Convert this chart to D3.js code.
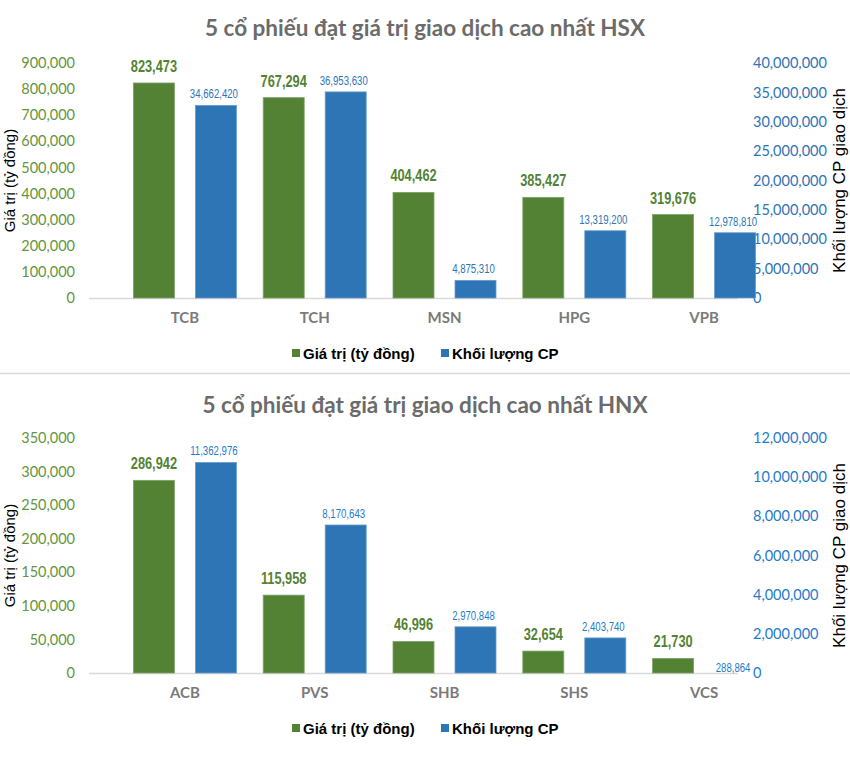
<!DOCTYPE html>
<html>
<head>
<meta charset="utf-8">
<script src="https://cdn.jsdelivr.net/npm/d3@7"></script>
<style>
  html, body { margin: 0; padding: 0; background: #fff; }
  svg { display: block; }
</style>
</head>
<body>
<svg id="chart" width="850" height="775"></svg>
<script>
// ---------- DATA ----------
const hsxTitle = "5 cổ phiếu đạt giá trị giao dịch cao nhất HSX";
const hsxCategories = ["TCB", "TCH", "MSN", "HPG", "VPB"];
const hsxValue = [823473, 767294, 404462, 385427, 319676];
const hsxVolume = [34662420, 36953630, 4875310, 13319200, 12978810];
const hsxValueTicks = [0, 100000, 200000, 300000, 400000, 500000, 600000, 700000, 800000, 900000];
const hsxVolumeTicks = [0, 5000000, 10000000, 15000000, 20000000, 25000000, 30000000, 35000000, 40000000];

const hnxTitle = "5 cổ phiếu đạt giá trị giao dịch cao nhất HNX";
const hnxCategories = ["ACB", "PVS", "SHB", "SHS", "VCS"];
const hnxValue = [286942, 115958, 46996, 32654, 21730];
const hnxVolume = [11362976, 8170643, 2970848, 2403740, 288864];
const hnxValueTicks = [0, 50000, 100000, 150000, 200000, 250000, 300000, 350000];
const hnxVolumeTicks = [0, 2000000, 4000000, 6000000, 8000000, 10000000, 12000000];

const seriesNames = ["Giá trị (tỷ đồng)", "Khối lượng CP"];
const leftAxisTitle = "Giá trị (tỷ đồng)";
const rightAxisTitle = "Khối lượng CP giao dịch";

// ---------- STYLE ----------
const GREEN = "#548235";
const BLUE = "#2e75b6";
const fmt = d3.format(",");
const svg = d3.select("#chart");
const CAL = "Lato, 'Open Sans', sans-serif";
const ARIAL = "'Liberation Sans', Arial, sans-serif";

function narrowText(sel, x, y, k) {
  // emulate a narrow font by compressing Liberation Sans horizontally
  sel.attr("transform", (d, i) => `translate(${x(d, i)},${y(d, i)}) scale(${k},1)`)
     .attr("x", 0).attr("y", 0).attr("font-family", ARIAL).attr("text-anchor", "middle");
}

function drawChart(opt) {
  const g = svg.append("g");
  const x = d3.scaleBand().domain(opt.categories).range([89, 738]);
  const y1 = d3.scaleLinear().domain(d3.extent(opt.valueTicks)).range([opt.bottom, opt.top]);
  const y2 = d3.scaleLinear().domain(d3.extent(opt.volumeTicks)).range([opt.bottom, opt.top]);
  // volume bars in the reference sit a fixed distance lower than the secondary axis
  const y2bar = y2.copy().range([opt.bottom + opt.volShift, opt.top + opt.volShift]);
  const barW = 41, pairOff = 62;

  // title
  g.append("text").attr("x", 425).attr("y", opt.titleY)
    .attr("text-anchor", "middle").attr("font-family", CAL).attr("font-weight", 700)
    .attr("font-size", 22.5).attr("fill", "#6b6b6b").text(opt.title);

  // left axis
  const la = g.append("g").attr("transform", `translate(75,0)`)
    .call(d3.axisLeft(y1).tickValues(opt.valueTicks).tickFormat(fmt).tickSize(0).tickPadding(0));
  la.select(".domain").remove();
  la.selectAll("text").attr("font-family", CAL).attr("font-size", 14.5).attr("fill", "#64953f");

  // right axis
  const ra = g.append("g").attr("transform", `translate(753,0)`)
    .call(d3.axisRight(y2).tickValues(opt.volumeTicks).tickFormat(fmt).tickSize(0).tickPadding(0));
  ra.select(".domain").remove();
  ra.selectAll("text").attr("font-family", CAL).attr("font-size", 14.5).attr("fill", opt.blueText);

  // baseline
  g.append("line").attr("x1", 89).attr("x2", 738).attr("y1", opt.bottom + 0.5).attr("y2", opt.bottom + 0.5)
    .attr("stroke", "#d9d9d9").attr("stroke-width", 1.5);

  const cx = c => x(c) + x.bandwidth() / 2;

  // value bars
  g.selectAll(".vb").data(opt.categories).join("rect")
    .attr("x", c => cx(c) - barW / 2).attr("width", barW)
    .attr("y", (c, i) => y1(opt.value[i])).attr("height", (c, i) => opt.bottom - y1(opt.value[i]))
    .attr("fill", GREEN).attr("stroke", "#7fa267").attr("stroke-width", 0.8);

  // volume bars
  g.selectAll(".bb").data(opt.categories).join("rect")
    .attr("x", c => cx(c) + pairOff - barW / 2).attr("width", barW)
    .attr("y", (c, i) => Math.min(y2bar(opt.volume[i]), opt.bottom))
    .attr("height", (c, i) => Math.max(0, opt.bottom - y2bar(opt.volume[i])))
    .attr("fill", BLUE).attr("stroke", "#6a9bcc").attr("stroke-width", 0.8);

  // value labels
  g.selectAll(".vl").data(opt.categories).join("text")
    .call(narrowText, c => cx(c), (c, i) => y1(opt.value[i]) - 11, 0.8)
    .attr("font-weight", 700).attr("font-size", 16).attr("fill", GREEN)
    .text((c, i) => fmt(opt.value[i]));

  // volume labels
  g.selectAll(".bl").data(opt.categories).join("text")
    .call(narrowText, c => cx(c) + pairOff - 2, (c, i) => y2bar(opt.volume[i]) - 7, 0.74)
    .attr("font-size", 13).attr("fill", opt.blueText)
    .text((c, i) => fmt(opt.volume[i]));

  // category labels
  g.selectAll(".cl").data(opt.categories).join("text")
    .attr("x", c => cx(c) + pairOff / 2).attr("y", opt.bottom + 25)
    .attr("text-anchor", "middle").attr("font-family", CAL).attr("font-weight", 700)
    .attr("font-size", 15).attr("fill", "#7a7a7a").text(c => c);

  // axis titles
  const mid = (opt.top + opt.bottom) / 2;
  g.append("text").attr("transform", `translate(15,${mid}) rotate(-90)`)
    .attr("text-anchor", "middle").attr("font-family", ARIAL).attr("font-size", 15)
    .attr("fill", "#000").text(leftAxisTitle);
  g.append("text").attr("transform", `translate(845,${mid}) rotate(-90)`)
    .attr("text-anchor", "middle").attr("font-family", ARIAL).attr("font-size", 17)
    .attr("fill", "#000").text(rightAxisTitle);

  // legend
  const lg = g.append("g").attr("transform", `translate(0,${opt.legendY})`);
  const items = [{name: seriesNames[0], color: GREEN, x: 292}, {name: seriesNames[1], color: BLUE, x: 441}];
  items.forEach(it => {
    lg.append("rect").attr("x", it.x).attr("y", -4).attr("width", 8).attr("height", 8).attr("fill", it.color);
    lg.append("text").attr("x", it.x + 11).attr("y", 5.5).attr("font-family", ARIAL).attr("font-weight", 700)
      .attr("font-size", 15).attr("fill", "#000").text(it.name);
  });
}

drawChart({
  title: hsxTitle, categories: hsxCategories, value: hsxValue, volume: hsxVolume,
  valueTicks: hsxValueTicks, volumeTicks: hsxVolumeTicks,
  top: 63, bottom: 298, titleY: 36, legendY: 353, volShift: 11, blueText: "#2e75b6"
});

// separator
svg.append("line").attr("x1", 0).attr("x2", 850).attr("y1", 373.5).attr("y2", 373.5)
  .attr("stroke", "#d9d9d9").attr("stroke-width", 1.5);

drawChart({
  title: hnxTitle, categories: hnxCategories, value: hnxValue, volume: hnxVolume,
  valueTicks: hnxValueTicks, volumeTicks: hnxVolumeTicks,
  top: 438, bottom: 673, titleY: 413, legendY: 728, volShift: 12, blueText: "#1f7bcb"
});
</script>
</body>
</html>
